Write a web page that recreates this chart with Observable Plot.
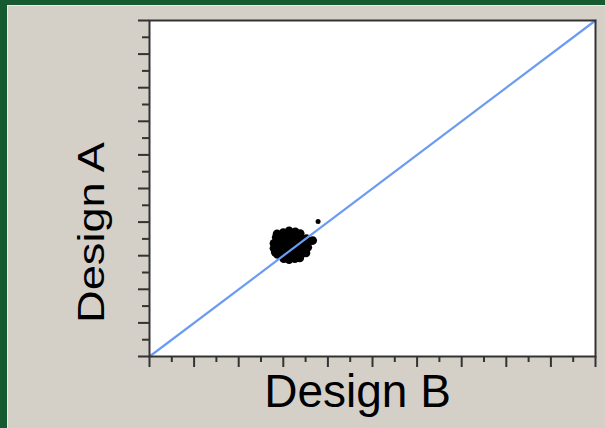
<!DOCTYPE html>
<html>
<head>
<meta charset="utf-8">
<script src="https://cdn.jsdelivr.net/npm/d3@7"></script>
<script src="https://cdn.jsdelivr.net/npm/@observablehq/plot@0.6"></script>
<style>
  html, body { margin: 0; padding: 0; }
  body {
    width: 605px; height: 428px; overflow: hidden;
    background: #165a30;
    font-family: "Liberation Sans", Arial, sans-serif;
  }
  #panel {
    position: absolute; left: 7px; top: 5px;
    width: 598px; height: 423px;
    background: #ecebe6;
  }
  #chart {
    position: absolute; left: 1px; top: 1px;
    width: 597px; height: 422px;
    background: #d4d0c8;
  }
</style>
</head>
<body>
<div id="panel"><div id="chart"></div></div>
<script>
// Paired measurements: Design B (x) against Design A (y)
const designB = [3.00, 3.13, 3.27, 3.38, 2.86, 2.84, 2.98, 3.11, 3.25, 3.38, 3.52,
                 2.79, 2.91, 3.04, 3.18, 3.31, 3.45, 3.58, 3.66,
                 2.79, 2.89, 3.02, 3.16, 3.29, 3.43, 3.55,
                 2.82, 2.87, 3.00, 3.13, 3.27, 3.40, 3.51,
                 3.01, 3.13, 3.26, 3.37];
const designA = [3.69, 3.74, 3.71, 3.66, 3.65, 3.55, 3.58, 3.58, 3.58, 3.55, 3.51,
                 3.37, 3.40, 3.40, 3.40, 3.40, 3.40, 3.43, 3.45,
                 3.22, 3.22, 3.22, 3.22, 3.22, 3.22, 3.25,
                 3.10, 3.04, 3.04, 3.04, 3.04, 3.04, 3.08,
                 2.91, 2.88, 2.91, 2.93];

// A single stray measurement away from the main group
const strayB = [3.78];
const strayA = [4.02];

// Line of equality (A = B)
const equality = [0, 10];

// Axis ticks: whole units and half units (no labels)
const majorTicks = [0, 1, 2, 3, 4, 5, 6, 7, 8, 9, 10];
const minorTicks = [0.5, 1.5, 2.5, 3.5, 4.5, 5.5, 6.5, 7.5, 8.5, 9.5];

const xLabel = "Design B";
const yLabel = "Design A";

const points = designB.map((b, i) => ({b, a: designA[i]}));
const stray = strayB.map((b, i) => ({b, a: strayA[i]}));
const diag = equality.map(v => ({b: v, a: v}));

const axisColor = "#333";

const plot = Plot.plot({
  width: 597,
  height: 422,
  marginLeft: 141,
  marginTop: 14,
  marginRight: 10,
  marginBottom: 72,
  style: {background: "transparent", overflow: "visible", fontFamily: "'Liberation Sans', Arial, sans-serif"},
  x: {domain: [0, 10]},
  y: {domain: [0, 10]},
  marks: [
    Plot.frame({fill: "white", stroke: null}),
    Plot.dot(points, {x: "b", y: "a", r: 4.3, fill: "black", stroke: null}),
    Plot.dot(stray, {x: "b", y: "a", r: 2.5, fill: "black", stroke: null}),
    Plot.line(diag, {x: "b", y: "a", stroke: "#6b9cf2", strokeWidth: 2.2}),
    Plot.frame({stroke: axisColor, strokeWidth: 2}),
    Plot.axisX({ticks: majorTicks, tickSize: 11, tickFormat: () => "", label: null, stroke: axisColor, strokeWidth: 2}),
    Plot.axisX({ticks: minorTicks, tickSize: 6, tickFormat: () => "", label: null, stroke: axisColor, strokeWidth: 2}),
    Plot.axisY({ticks: majorTicks, tickSize: 11, tickFormat: () => "", label: null, stroke: axisColor, strokeWidth: 2}),
    Plot.axisY({ticks: minorTicks, tickSize: 7, tickFormat: () => "", label: null, stroke: axisColor, strokeWidth: 2}),
    Plot.text([xLabel], {
      frameAnchor: "bottom", lineAnchor: "bottom", textAnchor: "middle",
      dx: -15, dy: 50, fontSize: 46, fill: "black", text: d => d
    }),
    Plot.text([yLabel], {
      frameAnchor: "left", lineAnchor: "bottom", textAnchor: "middle",
      rotate: -90, dx: -46, dy: 44, fontSize: 36, fill: "black", text: d => d
    })
  ]
});

// Stretch the vertical title along its length
d3.select(plot).selectAll("text")
  .filter(function() { return this.textContent === yLabel; })
  .attr("textLength", 181)
  .attr("lengthAdjust", "spacingAndGlyphs");

document.getElementById("chart").appendChild(plot);
</script>
</body>
</html>
